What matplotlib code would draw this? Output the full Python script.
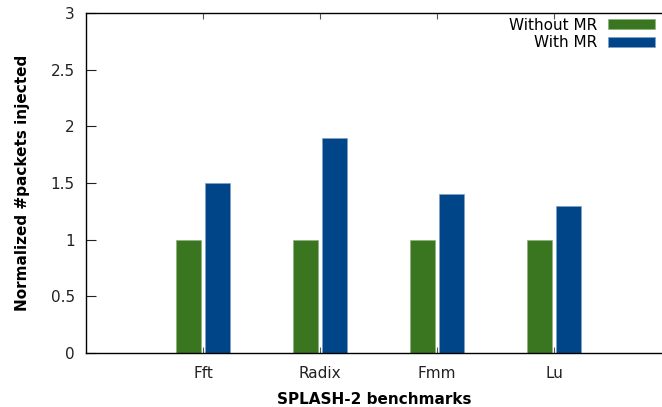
import matplotlib
matplotlib.use("Agg")
import matplotlib.pyplot as plt
import numpy as np

benchmarks = ["Fft", "Radix", "Fmm", "Lu"]
without_mr = [1.0, 1.0, 1.0, 1.0]
with_mr = [1.5, 1.9, 1.4, 1.3]
y_ticks = [0, 0.5, 1, 1.5, 2, 2.5, 3]
y_tick_labels = ["0", "0.5", "1", "1.5", "2", "2.5", "3"]

green = "#3a7520"
blue = "#004588"

fig = plt.figure(figsize=(6.62, 4.07), dpi=100)
ax = fig.add_axes([86 / 662, 1 - 353 / 407, 1 - 86 / 662, (353 - 13) / 407])

x = np.arange(1, len(benchmarks) + 1)
w = 0.212
off = 0.124
ax.bar(x - off, without_mr, width=w, color=green, edgecolor="#8fb07e",
       linewidth=0.5, label="Without MR", zorder=2)
ax.bar(x + off, with_mr, width=w, color=blue, edgecolor="#7f9fc4",
       linewidth=0.5, label="With MR", zorder=2)

ax.set_xlim(0, 4.92)
ax.set_ylim(0, 3)
ax.set_xticks(x)
ax.set_xticklabels(benchmarks)
ax.set_yticks(y_ticks)
ax.set_yticklabels(y_tick_labels)

ax.spines["right"].set_visible(False)
for s in ("left", "top", "bottom"):
    ax.spines[s].set_linewidth(1.0)
    ax.spines[s].set_color("black")

ax.tick_params(axis="y", direction="in", length=7, width=0.8, labelsize=11,
               pad=8, colors="#222222")
ax.tick_params(axis="x", direction="in", length=4, width=0.8, labelsize=11,
               pad=9, top=True, colors="#555555", labelcolor="#222222")

ax.set_ylabel("Normalized #packets injected", fontsize=11, fontweight="bold",
              labelpad=15)
ax.set_xlabel("SPLASH-2 benchmarks", fontsize=11, fontweight="bold",
              labelpad=8)

leg = ax.legend(loc="upper right", bbox_to_anchor=(1 - 7 / 576, 1 - 4.5 / 340),
                frameon=False, fontsize=11, markerfirst=False,
                handlelength=3.07, handleheight=0.65, handletextpad=0.72,
                labelspacing=0.18, borderaxespad=0, borderpad=0)
for t in leg.get_texts():
    t.set_ha("right")

fig.savefig("out.png", dpi=100)
